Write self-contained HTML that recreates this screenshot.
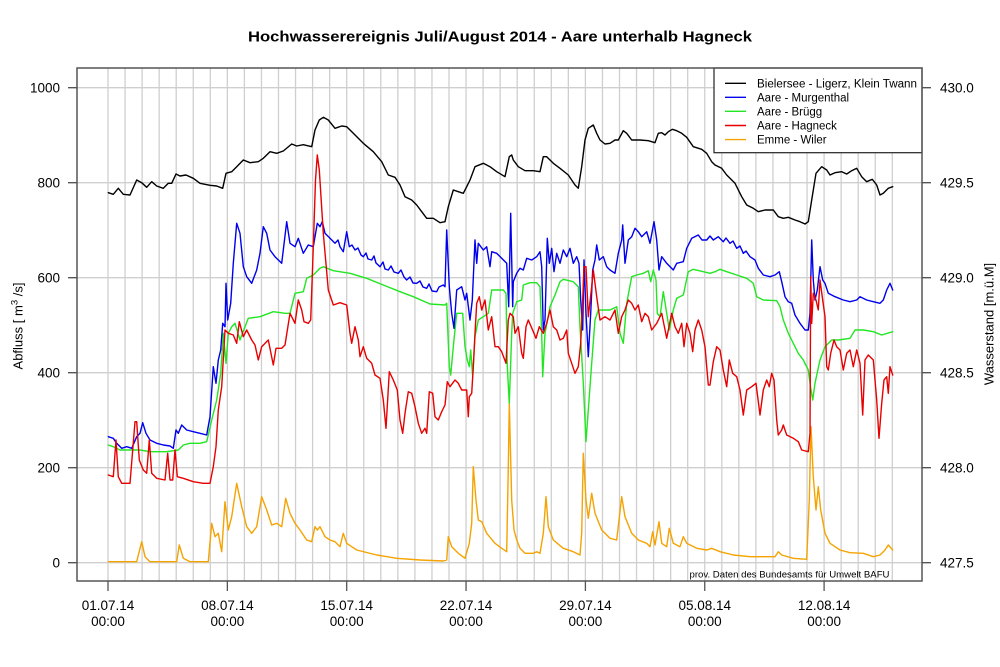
<!DOCTYPE html>
<html>
<head>
<meta charset="utf-8">
<style>
  html,body{margin:0;padding:0;background:#fff;}
  svg{display:block;}
  text{font-family:"Liberation Sans",Arial,sans-serif;fill:#000;}
</style>
</head>
<body>
<svg width="1000" height="667" viewBox="0 0 1000 667" xmlns="http://www.w3.org/2000/svg">
<rect x="0" y="0" width="1000" height="667" fill="#fff"/>

<!-- title -->
<text x="500" y="41.5" font-size="15" font-weight="bold" text-anchor="middle" textLength="504" lengthAdjust="spacingAndGlyphs">Hochwasserereignis Juli/August 2014 - Aare unterhalb Hagneck</text>

<!-- grid -->
<g stroke="#cfcfcf" stroke-width="1.3" fill="none">
<path d="M108,68V581 M125.05,68V581 M142.1,68V581 M159.15,68V581 M176.2,68V581 M193.25,68V581 M210.3,68V581 M227.35,68V581 M244.4,68V581 M261.45,68V581 M278.5,68V581 M295.55,68V581 M312.6,68V581 M329.65,68V581 M346.7,68V581 M363.75,68V581 M380.8,68V581 M397.85,68V581 M414.9,68V581 M431.95,68V581 M449,68V581 M466.05,68V581 M483.1,68V581 M500.15,68V581 M517.2,68V581 M534.25,68V581 M551.3,68V581 M568.35,68V581 M585.4,68V581 M602.45,68V581 M619.5,68V581 M636.55,68V581 M653.6,68V581 M670.65,68V581 M687.7,68V581 M704.75,68V581 M721.8,68V581 M738.85,68V581 M755.9,68V581 M772.95,68V581 M790,68V581 M807.05,68V581 M824.1,68V581 M841.15,68V581 M858.2,68V581 M875.25,68V581 M892.3,68V581"/>
<path d="M77,562.7H922 M77,467.7H922 M77,372.7H922 M77,277.7H922 M77,182.7H922 M77,87.7H922"/>
</g>

<!-- series -->
<g fill="none" stroke-width="1.4" stroke-linejoin="round" stroke-linecap="round">
<!-- Emme - Wiler -->
<polyline stroke="#f5a300" points="108.3,561.7 136.7,561.7 141.7,541.7 145,556.7 150,561.7 176.7,561.7 179.3,545 183.3,558.3 190,561.7 208.3,561.7 211.7,523.3 215,536.7 218.3,533.3 221.7,551.7 225,501.7 228.3,530 231.7,516.7 236.7,483.3 241.7,506.7 246.7,526.7 251.7,533.3 256.7,526.7 261.7,496.7 266.7,510 271.7,525 276.7,523.3 281.7,526.7 285.7,498.3 290,513.3 295,523.3 300,530 306.7,540 311.7,541.7 315,526.7 317.3,530 320,526.7 325,536.7 330,540 335,541.7 340,546.7 343.3,533.3 346.7,543.3 356.7,550 376.7,555 396.7,558.3 420,560 443.3,561 446.7,560 448.3,536.7 451.7,546.7 458.3,553.3 465,558.3 469.3,543.3 471.7,523.3 473.3,466.7 476,500 478.3,520 481.7,521.7 486.7,533.3 495,543.3 501.7,548.3 506.7,551.7 508.3,466.7 509.3,403.3 511.7,500 514,530 516.7,540 520,548.3 525,553.3 533.3,553.3 536.7,551.7 540,553.3 543.3,533.3 546,496.7 548.3,526.7 553.3,540 563.3,548.3 573.3,551.7 580,555 581.7,533.3 583.3,453.3 586,500 588.3,518.3 591.7,493.3 595,513.3 601.7,530 610,538.3 616.7,540 621.7,496.7 625,516.7 631.7,533.3 638.3,540 646.7,543.3 650,546.7 652.7,531.7 655,545 659,521.7 661.7,543.3 666.7,546.7 669.3,528.3 673.3,543.3 680,546.7 683.3,536.7 686.7,543.3 696.7,548.3 706.7,550 711.7,548.3 720,551.7 733.3,555 750,556.7 775,556.7 778.3,551.7 781.7,555 793.3,558.3 806.7,559.3 809.3,500 811,426.7 813.3,476.7 816,510 818.3,486.7 820.7,510 825,533.3 830,543.3 840,550 850,552.7 863.3,553.3 873.3,556.7 880,555 885,550 888.3,545 892.7,550"/>
<!-- Aare - Brügg -->
<polyline stroke="#22e622" points="108.3,445 113.3,446.7 120,450 130,450 140,450 150,451.7 166.7,451.7 178.3,450 183.3,445 190,443.3 200,443.3 206.7,441.7 211.7,420 216.7,400 220.7,373.3 223.3,333.3 226,363.3 228.3,333.3 231.7,326.7 235,323.3 240,340 245,326.7 248.3,318.3 260,316.7 273.3,311.7 285,313.3 290,313.3 295,293.3 303.3,291.7 306.7,278.3 313.3,275 320,268.3 323.3,266.7 333.3,270.7 350,273.3 366.7,278.3 383.3,285 400,291.7 413.3,296.7 430,304 445,305 446.7,303.3 449.3,366.7 450.7,375 453.3,346.7 456.7,313.3 462.7,313.3 465,346.7 467.3,360 469.3,366.7 470.7,350 472.7,376.7 475,336.7 478.3,320 483.3,316.7 488.3,313.3 491.7,290 503.3,290 506,293.3 507.3,366.7 509.3,403.3 511.7,333.3 512.7,313.3 516.7,301.7 521.7,300 523.3,285 530,282.7 536.7,282.7 540,286.7 541.7,333.3 542.7,376.7 545,333.3 550,306.7 555,295 560,281.7 563.3,279.3 573.3,281.7 578.3,286.7 580,326.7 583.3,383.3 586,441.7 588.3,410 591.7,363.3 595,320 598.3,310 610,310 616.7,306.7 620,333.3 623.3,343.3 626.7,303.3 631.7,276.7 636.7,275 643.3,273.3 648.3,270.7 650.7,281.7 653.3,270 656,280 657.3,313.3 660,316.7 663.3,291.7 666.7,313.3 669.3,330 673.3,310 676.7,298.3 683.3,295 688.3,271.7 693.3,269.3 703.3,271.7 710,273.3 715,271.7 720,269.3 726.7,271.7 736.7,275 746.7,278.3 753.3,283.3 756.7,296.7 763.3,300 776.7,300.7 780,306.7 783.3,320 788.3,333.3 793.3,343.3 798.3,353.3 803.3,360 808.3,370 810,383.3 812.7,400 815,383.3 820,360 825,346.7 831.7,340 838.3,340 850,338.3 855,330 863.3,330 873.3,331.7 881.7,335 892.7,331.7"/>
<!-- Aare - Murgenthal -->
<polyline stroke="#0000ee" points="108.3,436.7 113.3,438.3 116.7,443.3 121.7,448.3 126.7,446.7 131.7,448.3 136.7,436.7 140,433.3 142.7,422.7 146,433.3 150,440 156.7,443.3 163.3,445 170,446 173.3,448.3 176,430 178.3,433.3 181.7,425 186.7,430 193.3,431.7 200,433.3 206.7,435 210,416.7 213.3,366.7 216,383.3 218.3,360 220.7,350 222.7,323.3 225,326.7 226,283.3 227.7,320 230.7,303.3 233.3,263.3 236.7,223.3 240,233.3 243.3,266.7 246.7,276.7 251.7,283.3 256.7,270 260,253.3 263.3,226.7 266.7,233.3 270,250 275,256.7 281.7,263.3 286.7,221.7 290,243.3 295,246.7 298.3,238.3 303.3,253.3 308.3,245 313.3,246.7 317.3,223.3 320,226.7 322.3,221.7 325,233.3 330,238.3 335,243.3 338,240 340,246.7 343.3,251.7 346.7,231.7 349.3,246.7 352,245 355,250 358,248 361,255 363.3,256.7 366,253 368,259 371.7,260 374,256 376,263 380,266.7 383,262 385,269 388.3,270 391,266 394,272 398.3,273.3 401,270 404,277 406.7,280 410,277 413,283 416.7,283.3 420,281 423,287 426.7,288.3 429,284 432,291 436.7,291.7 439,287 443.3,285 445,286.7 446.7,230 449.3,286.7 451.7,313.3 454,328.3 456.7,290 461.7,286.7 465,300 466.7,293.3 470,320 472.3,300 475,240 476.7,263.3 478.3,243.3 483.3,250 486.7,246.7 490,266.7 491.7,251.7 496.7,253.3 501.7,258.3 506.7,263.3 508.7,306.7 510.7,213.3 512.7,306.7 513.3,281.7 516.7,273.3 520,268.3 523.3,270 526.7,258.3 531.7,260 536.7,256.7 540,251.7 541.7,266.7 543.3,330 545,320 547.3,238.3 549.3,263.3 551.7,248.3 554,271.7 556.7,253.3 560,263.3 563.3,250 566.7,256.7 570,248.3 573.3,263.3 576.7,256.7 579,263.3 580.7,300 582.7,330 584,260 586,313.3 588.3,356.7 590.7,313.3 592.7,270 595,260 596.7,245 599.3,260 603.3,256.7 606.7,266.7 610,270 615,273.3 618.3,253.3 621.7,240 622.7,225 625,263.3 628.3,240 631.7,236.7 635,228.3 638.3,231.7 641.7,236.7 646.7,231.7 650,243.3 654,221.7 656.7,240 659,270 661.7,256.7 666.7,263.3 673.3,270 676.7,263.3 683.3,261.7 686.7,248.3 691.7,238.3 698.3,235 702,240 706.7,240 710,236 713.3,240 718.3,236.7 723.3,241.7 726,238 730,243.3 733,241 736.7,248.3 740,246 743.3,253.3 746,251 750,256.7 755,260 758.3,268.3 763.3,275 770,276.7 775,275 779.3,271.7 781.7,281.7 785,296.7 788.3,301.7 791.7,303.3 795,315 800,323.3 805,330 808.3,330 810,313.3 811.7,240 813.3,280 815,300 817.3,290 820,266.7 822.7,280 825,283.3 828.3,293.3 835,296.7 843.3,300 850,301.7 856.7,300 860,296.7 866.7,300 873.3,301.7 880,303.3 883.3,300 886.7,290 890,283.3 892.7,290"/>
<!-- Aare - Hagneck -->
<polyline stroke="#e80000" points="108.3,475 113.3,476.7 116,440 118.3,476.7 121.7,483.3 130,483.3 132.7,450 135,421.7 136.7,421.7 139.3,460 143.3,470 146.7,473.3 149.3,440 151.7,473.3 156.7,478.3 165,480 167.7,453.3 170,480 172.7,480 175,450 177.3,476.7 183.3,478.3 193.3,481.7 203.3,483.3 210,483.3 213.3,466.7 216,446.7 218.3,410 221.7,386.7 225,330 228.3,333.3 233.3,335 236.7,343.3 239.3,321.7 243.3,336.7 246.7,330 251.7,340 255,345 258.3,360 261.7,346.7 268.3,340 273.3,365 276,348.3 281.7,348.3 285,345 290,313.3 295,323.3 298.3,300 301.7,310 304,321.7 308.3,323.3 310.7,320 313.3,246.7 315.5,180 317.3,155 319.3,170 323.3,233.3 328.3,290 333.3,305 340,302.7 346.7,305 350,333.3 351.7,343.3 355,326.7 358.3,340 360,356.7 363.3,346.7 366.7,358.3 371.7,363.3 375,375 380,378.3 383.3,400 386,428.3 389.3,371.7 393.3,380 397.3,390 400,420 402.7,433.3 405,413.3 408.3,391.7 411.7,393.3 415,406.7 418.3,423.3 421.7,433.3 425,428.3 426.7,433.3 429.3,391.7 432.7,393.3 435,416.7 438.3,420 441.7,411.7 445,405 447.3,381.7 450,386.7 455,380 458.3,383.3 461.7,390 466.7,390 468.3,416.7 469.3,396.7 471.7,393.3 473.3,366.7 475,333.3 476.7,303.3 479.3,296.7 481.7,310 485,300 488.3,330 491.7,316.7 495,346.7 498.3,346.7 501.7,351.7 506,363.3 508.3,320 510,313.3 513.3,316.7 515,333.3 518.3,326.7 521.7,353.3 523.3,358.3 526,326.7 528.3,320 533.3,331.7 536,338.3 539.3,326.7 543.3,333.3 546.7,323.3 550,310 553.3,326.7 556.7,330 560,340 563.3,338.3 566.7,330 568.3,353.3 571.7,363.3 575,373.3 578.3,366.7 580.7,343.3 582.7,300 584,266.7 586,266.7 588.3,316.7 591.7,286.7 593.3,270 596.7,296.7 600,320 605,316.7 610,320 615,310 618.3,333.3 621.7,316.7 625,310 628.3,300 631.7,303.3 635,310 638.3,305 641.7,321.7 645,313.3 648.3,316.7 651.7,330 656.7,323.3 661.7,313.3 666.7,338.3 671.7,313.3 675,326.7 678.3,333.3 681.7,323.3 684,346.7 686.7,323.3 690,333.3 692.7,351.7 695,330 698.3,320 701.7,330 705,346.7 708.3,385 710,385 713.3,361.7 716.7,346.7 720,350 723.3,370 726.7,386.7 729.3,360 732.7,373.3 736.7,376.7 740,390 743.3,415 746.7,390 751.7,386.7 756,383.3 760,415 763.3,390 766.7,380 769.3,386.7 771.7,373.3 774,380 776.7,420 778.3,435 781.7,430 783.3,425 786.7,435 793.3,438.3 798.3,441.7 801.7,450 808.3,451.7 810,433.3 810.7,276.7 811.7,323.3 813.3,293.3 816,300 818.3,310 820,280 822.7,300 825,316.7 826.7,366.7 828.3,370 830.7,353.3 834,340 836.7,346.7 840,350 843.3,370 846.7,353.3 850,350 853.3,366.7 856.7,350 860,363.3 862.7,415 865,360 868.3,355 873.3,360 876.7,400 879,438.3 881.7,403.3 884,380 886.7,376.7 888.3,393.3 890,366.7 892.7,375"/>
<!-- Bielersee -->
<polyline stroke="#000" points="108.3,192.7 113.3,194.3 118.3,188.3 123.3,194.3 130,195 136.7,180 141.7,182.7 146.7,187.3 151.7,181.7 156.7,186 163.3,188.3 168.3,183.3 171.7,183.3 176,174 180,176 186,175 193.3,178.3 200,183.3 210,185.3 216.7,186 222.7,188.3 226,173.3 231.7,171.7 236.7,166.7 243.3,160 250,162.7 258.3,161.7 263.3,158.3 270,151.7 276.7,153.3 283.3,151 291.7,144 296.7,146 303.3,144.7 311.7,146.7 315,130 319.3,120 323.3,117.3 328.3,120 335,128.3 341.7,126 346.7,126.7 353.3,133.3 363.3,143.3 373.3,151.7 381.7,161.7 388.3,175 395,177.3 400,185 405,196.7 411.7,200 416.7,205 421.7,211.7 426.7,218.3 433.3,218.3 440,222.7 445,221.7 448.3,206.7 453.3,190 458.3,191.7 463.3,193.3 466.7,186.7 470,180 475,166.7 483.3,163.3 490,166.7 496.7,171.7 505,176.7 509.3,156.7 511.7,155 513.3,160 518.3,166.7 525,170.7 533.3,170.7 540,171.7 543.3,156.7 546.7,156.7 553.3,163.3 560,168.3 568.3,175 575,185 578.3,188.3 581.7,166.7 585,140 588.3,128.3 593.3,125 596.7,133.3 600,140 605,144 610,143.3 615,140 618.3,140 623.3,130.7 626.7,133.3 631.7,140 640,140 648.3,140.7 655,142.7 658.3,133.3 661.7,132.7 665,135 668.3,131.7 672.3,129.3 676.7,130.7 681.7,133.3 686.7,137.3 693.3,146.7 701.7,149.3 706.7,153.3 711.7,161.7 715,165 721.7,168.3 726.7,175 735,183.3 741.7,196.7 746.7,205 753.3,208.3 758.3,211.7 765,210 773.3,210 778.3,216.7 783.3,218.3 788.3,217.3 795,220 800,221.7 805,224 808.3,221.7 811.7,200 816,173.3 821.7,166.7 826.7,170 830,175 835,172.7 841.7,171.7 846.7,174 851.7,170.7 856.7,168.3 861.7,176.7 866.7,181.7 872.3,179.3 876.7,185 880,195 883.3,193.3 888.3,188.3 892.7,186.7"/>
</g>

<!-- footnote -->
<text x="689.5" y="577.5" font-size="9" textLength="200" lengthAdjust="spacingAndGlyphs">prov. Daten des Bundesamts für Umwelt BAFU</text>

<!-- legend -->
<rect x="714" y="68" width="208" height="84.7" fill="#fff" stroke="#222" stroke-width="1.2"/>
<g stroke-width="1.4">
<line x1="725" y1="83.3" x2="746" y2="83.3" stroke="#000"/>
<line x1="725" y1="97.3" x2="746" y2="97.3" stroke="#0000ee"/>
<line x1="725" y1="111.3" x2="746" y2="111.3" stroke="#22e622"/>
<line x1="725" y1="125.5" x2="746" y2="125.5" stroke="#e80000"/>
<line x1="725" y1="139.6" x2="746" y2="139.6" stroke="#f5a300"/>
</g>
<g font-size="11.5">
<text x="757" y="87.4" textLength="160" lengthAdjust="spacingAndGlyphs">Bielersee - Ligerz, Klein Twann</text>
<text x="757" y="101.4">Aare - Murgenthal</text>
<text x="757" y="115.4">Aare - Brügg</text>
<text x="757" y="129.6">Aare - Hagneck</text>
<text x="757" y="143.7">Emme - Wiler</text>
</g>

<!-- frame -->
<rect x="77" y="68" width="845" height="513" fill="none" stroke="#555" stroke-width="1.5"/>

<!-- ticks -->
<g stroke="#555" stroke-width="1.3">
<path d="M68,562.7H77 M68,467.7H77 M68,372.7H77 M68,277.7H77 M68,182.7H77 M68,87.7H77"/>
<path d="M922,562.7H931 M922,467.7H931 M922,372.7H931 M922,277.7H931 M922,182.7H931 M922,87.7H931"/>
<path d="M108,581V591 M227.35,581V591 M346.7,581V591 M466.05,581V591 M585.4,581V591 M704.75,581V591 M824.1,581V591"/>
</g>

<!-- left axis labels -->
<g font-size="13.5" text-anchor="end">
<text x="60" y="567.5">0</text>
<text x="60" y="472.5">200</text>
<text x="60" y="377.5">400</text>
<text x="60" y="282.5">600</text>
<text x="60" y="187.5">800</text>
<text x="60" y="92.5">1000</text>
</g>
<!-- right axis labels -->
<g font-size="13.5" text-anchor="start">
<text x="940" y="567.5">427.5</text>
<text x="940" y="472.5">428.0</text>
<text x="940" y="377.5">428.5</text>
<text x="940" y="282.5">429.0</text>
<text x="940" y="187.5">429.5</text>
<text x="940" y="92.5">430.0</text>
</g>
<!-- x labels -->
<g font-size="13.5" text-anchor="middle">
<text x="108" y="610">01.07.14</text><text x="108" y="626">00:00</text>
<text x="227.35" y="610">08.07.14</text><text x="227.35" y="626">00:00</text>
<text x="346.7" y="610">15.07.14</text><text x="346.7" y="626">00:00</text>
<text x="466.05" y="610">22.07.14</text><text x="466.05" y="626">00:00</text>
<text x="585.4" y="610">29.07.14</text><text x="585.4" y="626">00:00</text>
<text x="704.75" y="610">05.08.14</text><text x="704.75" y="626">00:00</text>
<text x="824.1" y="610">12.08.14</text><text x="824.1" y="626">00:00</text>
</g>

<!-- axis titles -->
<text transform="translate(22.5,326) rotate(-90)" font-size="13" text-anchor="middle">Abfluss [ m<tspan font-size="9.5" dy="-5">3</tspan><tspan dy="5"> /s]</tspan></text>
<text transform="translate(993.5,324) rotate(-90)" font-size="13" text-anchor="middle">Wasserstand [m.ü.M]</text>
</svg>
</body>
</html>
